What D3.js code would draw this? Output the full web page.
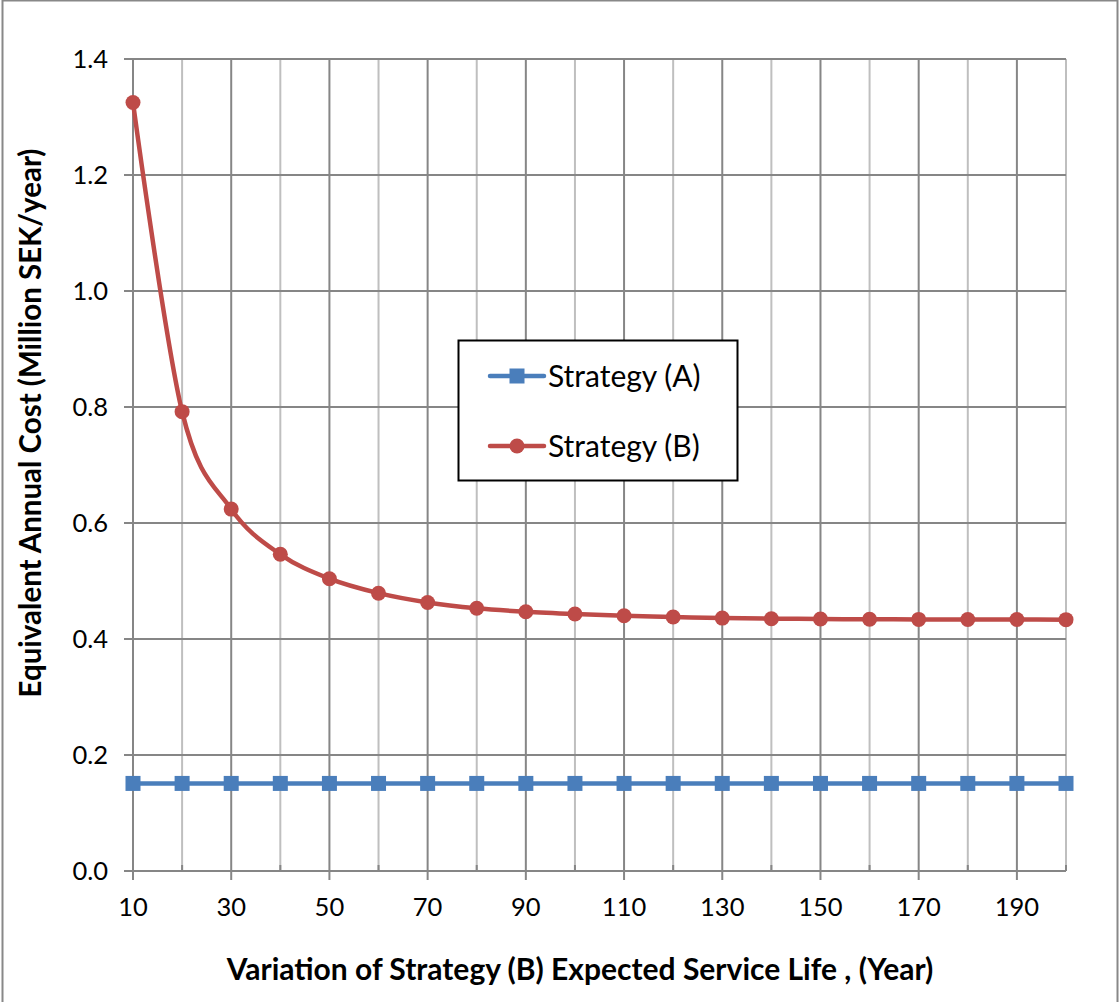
<!DOCTYPE html>
<html><head><meta charset="utf-8">
<script src="https://cdn.jsdelivr.net/npm/d3@7"></script>
<style>body{margin:0;background:#fff}svg{display:block}</style>
</head><body>
<svg id="chart" width="1119" height="1002"></svg>
<script>
const years = [10,20,30,40,50,60,70,80,90,100,110,120,130,140,150,160,170,180,190,200];
const strategyA = [0.151,0.151,0.151,0.151,0.151,0.151,0.151,0.151,0.151,0.151,0.151,0.151,0.151,0.151,0.151,0.151,0.151,0.151,0.151,0.151];
const strategyB = [1.325,0.792,0.624,0.546,0.504,0.479,0.463,0.453,0.447,0.443,0.440,0.438,0.436,0.435,0.4345,0.434,0.4338,0.4336,0.4335,0.4334];
const seriesNames = ["Strategy (A)","Strategy (B)"];
const xTickLabels = [10,30,50,70,90,110,130,150,170,190];
const yTickLabels = [0,0.2,0.4,0.6,0.8,1.0,1.2,1.4];
const xTitle = "Variation of Strategy (B) Expected Service Life , (Year)";
const yTitle = "Equivalent Annual Cost (Million SEK/year)";

const svg = d3.select("#chart");
const FONT = "Lato, 'Open Sans', sans-serif";
const blue = "#4a7ebb", red = "#be4b48";
const gridDark = "#868686", gridLight = "#bfbfbf";

svg.append("rect").attr("x",2.5).attr("y",0.5).attr("width",1115).attr("height",1010)
  .attr("fill","none").attr("stroke","#888").attr("stroke-width",2);

const x = d3.scaleLinear().domain([10,200]).range([133,1066]);
const y = d3.scaleLinear().domain([0,1.4]).range([871,59]);

const g = svg.append("g");
// vertical grid
g.selectAll(".vg").data(years).join("line")
  .attr("x1",d=>x(d)).attr("x2",d=>x(d)).attr("y1",y(1.4)).attr("y2",y(0))
  .attr("stroke",d=>xTickLabels.includes(d)?gridDark:gridLight).attr("stroke-width",2);
// horizontal grid
g.selectAll(".hg").data(yTickLabels).join("line")
  .attr("x1",x(10)-9).attr("x2",x(200)).attr("y1",d=>y(d)).attr("y2",d=>y(d))
  .attr("stroke",gridDark).attr("stroke-width",2);
// x ticks
g.selectAll(".xt").data(years).join("line")
  .attr("x1",d=>x(d)).attr("x2",d=>x(d))
  .attr("y1",d=>xTickLabels.includes(d)?y(0):y(0)-6)
  .attr("y2",d=>xTickLabels.includes(d)?y(0)+9:y(0))
  .attr("stroke",gridDark).attr("stroke-width",2);

// tick labels
g.selectAll(".xl").data(xTickLabels).join("text")
  .attr("x",d=>x(d)).attr("y",916).attr("text-anchor","middle")
  .attr("font-family",FONT).attr("font-size",25.5).attr("fill","#000").text(d=>d);
g.selectAll(".yl").data(yTickLabels).join("text")
  .attr("x",108).attr("y",d=>y(d)).attr("dy","0.35em").attr("text-anchor","end")
  .attr("font-family",FONT).attr("font-size",25.5).attr("fill","#000").text(d=>d.toFixed(1));

// titles
svg.append("text").attr("x",580).attr("y",980).attr("text-anchor","middle")
  .attr("font-family",FONT).attr("font-weight","bold").attr("font-size",30).text(xTitle);
svg.append("text").attr("transform","translate(41,423) rotate(-90)").attr("text-anchor","middle")
  .attr("font-family",FONT).attr("font-weight","bold").attr("font-size",29.5).text(yTitle);

// series
const ptsA = years.map((d,i)=>[d,strategyA[i]]);
const ptsB = years.map((d,i)=>[d,strategyB[i]]);
const line = d3.line().x(d=>x(d[0])).y(d=>y(d[1]));
svg.append("path").attr("d",line.curve(d3.curveLinear)(ptsA)).attr("fill","none")
  .attr("stroke",blue).attr("stroke-width",4.5);
svg.selectAll(".ma").data(ptsA).join("rect")
  .attr("x",d=>x(d[0])-7.5).attr("y",d=>y(d[1])-7.5).attr("width",15).attr("height",15).attr("fill",blue);
svg.append("path").attr("d",line.curve(d3.curveCardinal.tension(0))(ptsB)).attr("fill","none")
  .attr("stroke",red).attr("stroke-width",4.5);
svg.selectAll(".mb").data(ptsB).join("circle")
  .attr("cx",d=>x(d[0])).attr("cy",d=>y(d[1])).attr("r",7.5).attr("fill",red);

// legend
const lg = svg.append("g");
lg.append("rect").attr("x",458.5).attr("y",340.5).attr("width",279).attr("height",140)
  .attr("fill","#fff").attr("stroke","#000").attr("stroke-width",2);
const legY = [376,446];
const colors = [blue, red];
seriesNames.forEach((n,i)=>{
  lg.append("line").attr("x1",490).attr("x2",544).attr("y1",legY[i]).attr("y2",legY[i])
    .attr("stroke",colors[i]).attr("stroke-width",4.5).attr("stroke-linecap","round");
  if(i===0) lg.append("rect").attr("x",517-7.5).attr("y",legY[i]-7.5).attr("width",15).attr("height",15).attr("fill",blue);
  else lg.append("circle").attr("cx",517).attr("cy",legY[i]).attr("r",7.5).attr("fill",red);
  lg.append("text").attr("x",548).attr("y",legY[i]).attr("dy","0.35em")
    .attr("font-family",FONT).attr("font-size",30).attr("fill","#000").text(n);
});
</script>
</body></html>
